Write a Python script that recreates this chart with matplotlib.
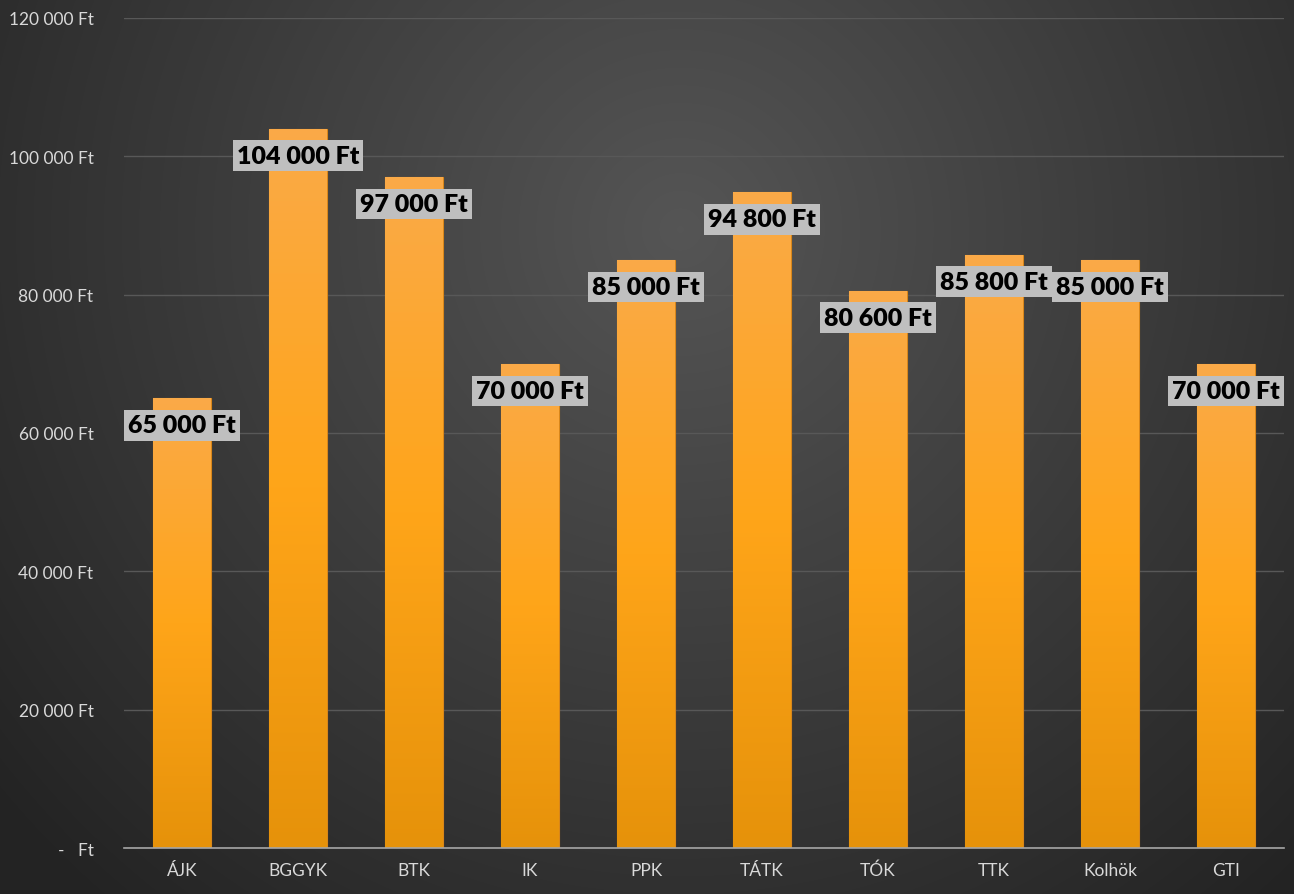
import numpy as np
import matplotlib.pyplot as plt
from matplotlib.colors import LinearSegmentedColormap

categories = ['ÁJK', 'BGGYK', 'BTK', 'IK', 'PPK', 'TÁTK', 'TÓK', 'TTK', 'Kolhök', 'GTI']
values = [65000, 104000, 97000, 70000, 85000, 94800, 80600, 85800, 85000, 70000]
yticks = [0, 20000, 40000, 60000, 80000, 100000, 120000]
ytick_labels = ['-   Ft', '20 000 Ft', '40 000 Ft', '60 000 Ft', '80 000 Ft', '100 000 Ft', '120 000 Ft']


def fmt(v):
    return f'{v:,.0f}'.replace(',', ' ') + ' Ft'


plt.rcParams['font.family'] = ['Lato', 'DejaVu Sans']

fig = plt.figure(figsize=(12.94, 8.95), dpi=100)

# radial background
bg = fig.add_axes([0, 0, 1, 1], zorder=-10)
yy, xx = np.mgrid[0:895, 0:1294]
r = np.hypot(xx - 680, yy - 230) / 900
bg_cmap = LinearSegmentedColormap.from_list('bg', ['#555555', '#3c3c3c', '#232323'])
bg.imshow(np.clip(r, 0, 1), cmap=bg_cmap, vmin=0, vmax=1, aspect='auto')
bg.axis('off')

ax = fig.add_axes([124 / 1294, 1 - 849 / 895, 1160 / 1294, 830 / 895])
ax.set_facecolor('none')

x = np.arange(len(categories))
bars = ax.bar(x, values, width=0.5, color='#FFA51A', edgecolor='#D8861A', linewidth=0.8, zorder=2)

bar_cmap = LinearSegmentedColormap.from_list('bar', ['#E6920A', '#FFA519', '#FAAA48'])
grad = np.linspace(0, 1, 256).reshape(-1, 1)
for b in bars:
    bx, by = b.get_x(), b.get_y()
    im = ax.imshow(grad, cmap=bar_cmap, origin='lower', aspect='auto',
                   extent=(bx, bx + b.get_width(), by, by + b.get_height()), zorder=2.5)
    im.set_clip_path(b)

for xi, v in zip(x, values):
    ax.annotate(fmt(v), (xi, v), xytext=(0, -27), textcoords='offset pixels',
                ha='center', va='center', fontsize=18, fontweight='heavy', color='black',
                bbox=dict(boxstyle='square,pad=0.17', fc='#BFBFBF', ec='none'), zorder=5)

ax.set_xlim(-0.5, len(categories) - 0.5)
ax.set_ylim(0, 120000)
ax.set_yticks(yticks)
ax.set_yticklabels(ytick_labels)
ax.set_xticks(x)
ax.set_xticklabels(categories)
ax.tick_params(colors='#D9D9D9', labelsize=12.5, length=0)
ax.tick_params(axis='y', pad=22)
ax.tick_params(axis='x', pad=10)
ax.grid(axis='y', color='#585858', linewidth=1)
ax.set_axisbelow(True)
for s in ['top', 'right', 'left']:
    ax.spines[s].set_visible(False)
ax.spines['bottom'].set_color('#A6A6A6')
ax.spines['bottom'].set_linewidth(1.2)
ax.spines['bottom'].set_zorder(3)

fig.savefig('out.png', dpi=100)
